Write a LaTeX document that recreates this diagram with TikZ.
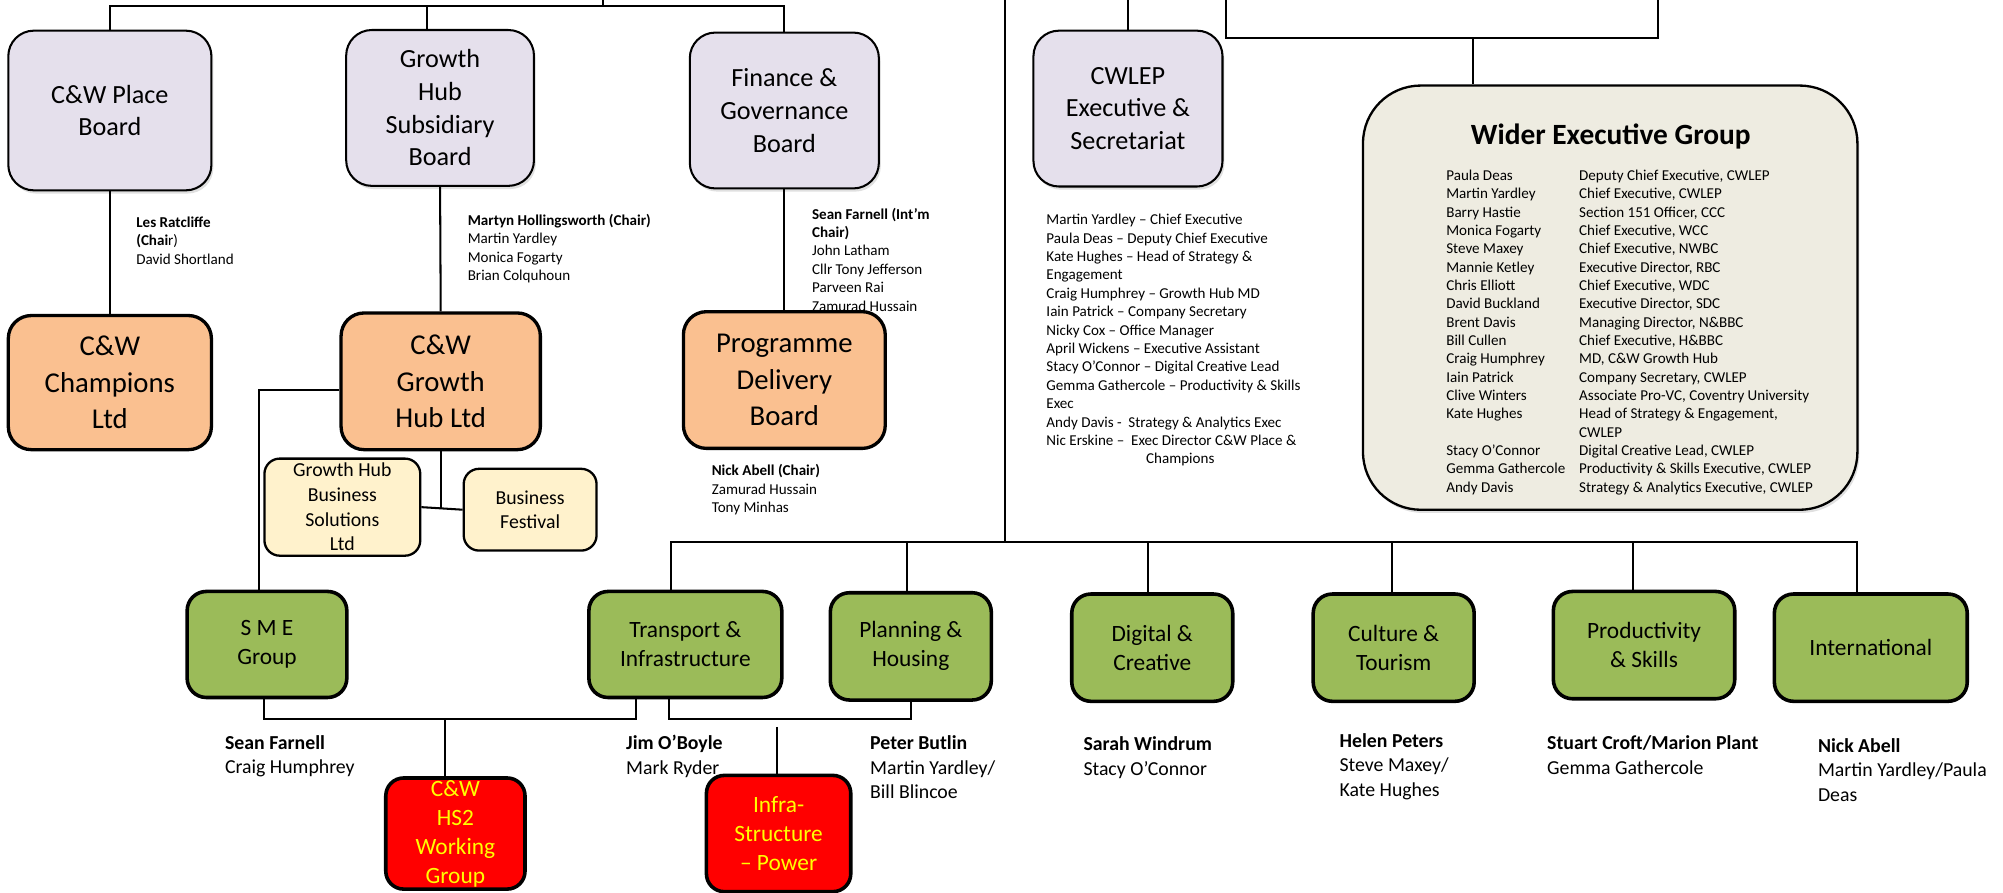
\documentclass[tikz,border=0pt]{standalone}
\usepackage{fontspec}
\setmainfont{Carlito}
\usetikzlibrary{shadows}
\definecolor{boardlilac}{HTML}{E5E0EC}
\definecolor{companypeach}{HTML}{FAC090}
\definecolor{subcream}{HTML}{FFF2CC}
\definecolor{groupgreen}{HTML}{9BBB59}
\definecolor{widerbeige}{HTML}{EEECE1}
\definecolor{taskyellow}{HTML}{FFFF00}

\begin{document}
\begin{tikzpicture}[x=1pt,y=1pt,yscale=-1,
  link/.style={line width=1.6pt},
  softshadow/.style={drop shadow={shadow xshift=1.5pt,shadow yshift=-2.5pt,opacity=0.2,fill=black!60}},
  boardbox/.style={draw,line width=1.6pt,rounded corners=20pt,fill=boardlilac,align=center,inner sep=0pt,font=\fontsize{20.5}{25.6}\selectfont,softshadow},
  companybox/.style={draw,line width=2.6pt,rounded corners=18pt,fill=companypeach,align=center,inner sep=0pt,font=\fontsize{22.5}{28.6}\selectfont},
  subbox/.style={draw,line width=1.8pt,rounded corners=12pt,fill=subcream,align=center,inner sep=0pt,font=\fontsize{15.5}{19.3}\selectfont},
  groupbox/.style={draw,line width=2.8pt,rounded corners=15pt,fill=groupgreen,align=center,inner sep=0pt,font=\fontsize{18.3}{22.7}\selectfont},
  taskbox/.style={draw,line width=2.8pt,rounded corners=14pt,fill=red,text=taskyellow,align=center,inner sep=0pt,font=\fontsize{18.3}{22.7}\selectfont},
  widerbox/.style={draw,line width=1.8pt,rounded corners=45pt,fill=widerbeige,softshadow},
  note/.style={anchor=north west,align=left,inner sep=0pt,font=\fontsize{11.8}{14.4}\selectfont},
  bignote/.style={anchor=north west,align=left,inner sep=0pt,font=\fontsize{15.5}{19.2}\selectfont}
]
\useasboundingbox (0,0) rectangle (1568,699);

%Shape: Boards
\node[boardbox,minimum width=159pt,minimum height=125pt] (placeb) at (86,86.5) {C\&W Place\\Board};
\node[boardbox,minimum width=147pt,minimum height=122pt] (hubsub) at (344.5,84.5) {Growth\\Hub\\Subsidiary\\Board};
\node[boardbox,minimum width=148pt,minimum height=122pt] (finance) at (614,86.5) {Finance \&\\Governance\\Board};
\node[boardbox,minimum width=148pt,minimum height=122pt] (cwlep) at (883,85) {CWLEP\\Executive \&\\Secretariat};

% Text Node
\node[note] (placenote) at (106.5,169.5) {\textbf{Les Ratcliffe}\\\textbf{(Chai}r)\\David Shortland};
\node[note] (hubnote) at (366,167.5) {\textbf{Martyn Hollingsworth (Chair)}\\Martin Yardley\\Monica Fogarty\\Brian Colquhoun};
\node[note] (financenote) at (635.5,162.5) {\textbf{Sean Farnell (Int’m}\\\textbf{Chair)}\\John Latham\\Cllr Tony Jefferson\\Parveen Rai\\Zamurad Hussain};
\node[note] (cwlepnote) at (819,167.5) {Martin Yardley -- Chief Executive\\Paula Deas -- Deputy Chief Executive\\Kate Hughes -- Head of Strategy \&\\Engagement\\Craig Humphrey -- Growth Hub MD\\Iain Patrick -- Company Secretary\\Nicky Cox -- Office Manager\\April Wickens -- Executive Assistant\\Stacy O’Connor -- Digital Creative Lead\\Gemma Gathercole -- Productivity \& Skills\\Exec\\Andy Davis -\ \ Strategy \& Analytics Exec\\Nic Erskine --\ \ Exec Director C\&W Place \&\\\hspace*{78pt}Champions};

%Shape: Companies
\node[companybox,minimum width=159pt,minimum height=105pt] (champions) at (86,299.5) {C\&W\\Champions\\Ltd};
\node[companybox,minimum width=156pt,minimum height=107pt] (hubltd) at (345,298.5) {C\&W\\Growth\\Hub Ltd};
\node[companybox,minimum width=158pt,minimum height=107pt] (pdb) at (614,297.5) {Programme\\Delivery\\Board};
\node[note] (pdbnote) at (557,363.5) {\textbf{Nick Abell (Chair)}\\Zamurad Hussain\\Tony Minhas};

\node[subbox,minimum width=122pt,minimum height=76pt] (ghbs) at (268,397) {Growth Hub\\Business\\Solutions\\Ltd};
\node[subbox,minimum width=104pt,minimum height=64pt] (festival) at (415,399) {Business\\Festival};

%Shape: Wider Executive Group
\node[widerbox,minimum width=387pt,minimum height=332pt] (wider) at (1260.5,233) {};
\node[anchor=base,inner sep=0pt,font=\fontsize{23}{27}\selectfont\bfseries] (widertitle) at (1261,113.5) {Wider Executive Group};
\node[anchor=north west,inner sep=0pt,font=\fontsize{11.8}{14.35}\selectfont] (widerlist) at (1132,131) {%
\begin{tabular}{@{}p{104pt}@{}l@{}}
Paula Deas & Deputy Chief Executive, CWLEP\\
Martin Yardley & Chief Executive, CWLEP\\
Barry Hastie & Section 151 Officer, CCC\\
Monica Fogarty & Chief Executive, WCC\\
Steve Maxey & Chief Executive, NWBC\\
Mannie Ketley & Executive Director, RBC\\
Chris Elliott & Chief Executive, WDC\\
David Buckland & Executive Director, SDC\\
Brent Davis & Managing Director, N\&BBC\\
Bill Cullen & Chief Executive, H\&BBC\\
Craig Humphrey & MD, C\&W Growth Hub\\
Iain Patrick & Company Secretary, CWLEP\\
Clive Winters & Associate Pro-VC, Coventry University\\
Kate Hughes & Head of Strategy \& Engagement,\\
 & CWLEP\\
Stacy O’Connor & Digital Creative Lead, CWLEP\\
Gemma Gathercole & Productivity \& Skills Executive, CWLEP\\
Andy Davis & Strategy \& Analytics Executive, CWLEP
\end{tabular}};

%Shape: Groups
\node[groupbox,minimum width=125pt,minimum height=83pt] (sme) at (209,504.5) {S M E\\Group};
\node[groupbox,minimum width=151pt,minimum height=83pt] (transport) at (536.5,504.5) {Transport \&\\Infrastructure};
\node[groupbox,minimum width=126pt,minimum height=84pt] (planning) at (713,506) {Planning \&\\Housing};
\node[groupbox,minimum width=126pt,minimum height=84pt] (digital) at (902,507) {Digital \&\\Creative};
\node[groupbox,minimum width=126pt,minimum height=84pt] (culture) at (1091,507) {Culture \&\\Tourism};
\node[groupbox,minimum width=142pt,minimum height=84pt] (skills) at (1287,505) {Productivity\\\& Skills};
\node[groupbox,minimum width=151pt,minimum height=84pt] (international) at (1464.5,507) {International};

%Shape: Working groups
\node[taskbox,minimum width=109pt,minimum height=87pt] (hs2) at (356.5,652.5) {C\&W\\HS2\\Working\\Group};
\node[taskbox,minimum width=113pt,minimum height=91pt] (infra) at (609.5,652.5) {Infra-\\Structure\\-- Power};

% Text Node
\node[bignote] (smenote) at (176,575.3) {\textbf{Sean Farnell}\\Craig Humphrey};
\node[bignote] (transportnote) at (490,575.3) {\textbf{Jim O’Boyle}\\Mark Ryder};
\node[bignote] (planningnote) at (681,575.7) {\textbf{Peter Butlin}\\Martin Yardley/\\Bill Blincoe};
\node[bignote] (digitalnote) at (848,576.7) {\textbf{Sarah Windrum}\\Stacy O’Connor};
\node[bignote] (culturenote) at (1048.5,573.7) {\textbf{Helen Peters}\\Steve Maxey/\\Kate Hughes};
\node[bignote] (skillsnote) at (1211,575.7) {\textbf{Stuart Croft/Marion Plant}\\Gemma Gathercole};
\node[bignote] (intlnote) at (1423,577.7) {\textbf{Nick Abell}\\Martin Yardley/Paula\\Deas};

%Straight Lines
\coordinate (bus) at (472,5);
\coordinate (busup) at (472,0);
\draw[link] (placeb.north) |- (bus) -| (finance.north);
\draw[link] (bus) -- (busup);
\draw[link] ([xshift=-10pt]hubsub.north) -- ([xshift=-10pt]hubsub.north |- bus);
\draw[link] (placeb.south) -- (champions.north);
\draw[link] (hubsub.south) -- (hubltd.north);
\draw[link] (finance.south) -- (pdb.north);

\coordinate (subjoin) at (345,398);
\draw[link] (hubltd.south) -- (subjoin);
\draw[link] (ghbs.east) -- (festival.west);
\draw[link] (hubltd.west |- 0,305) -| ([xshift=-6pt]sme.north);

\coordinate (cwtop) at (883,0);
\draw[link] (cwlep.north) -- (cwtop);
\coordinate (brl) at (960,0);
\coordinate (brcorner) at (1298,30);
\coordinate (brr) at (1298,0);
\coordinate (brjoin) at (1153,30);
\draw[link] (brl) |- (brcorner) -- (brr);
\draw[link] (brjoin) -- (brjoin |- wider.north);

\coordinate (trunktop) at (787,0);
\coordinate (trunk) at (787,424);
\draw[link] (trunktop) -- (trunk);
\draw[link] ([xshift=-11.5pt]transport.north) |- ([xshift=-10.5pt]international.north |- trunk) -- ([xshift=-10.5pt]international.north);
\foreach \n/\s in {planning/-3,digital/-3,culture/-1,skills/-9}
  \draw[link] ([xshift=\s pt]\n.north) -- ([xshift=\s pt]\n.north |- trunk);

\coordinate (hsbar) at (348,563);
\draw[link] ([xshift=-2pt]sme.south) |- (hsbar) -| ([xshift=-38.5pt]transport.south);
\draw[link] (hsbar) -- (hsbar |- hs2.north);
\coordinate (infbar) at (608,563);
\coordinate (infgap) at (608,569);
\draw[link] ([xshift=-12.5pt]transport.south) |- (infbar) -| (planning.south);
\draw[link] (infgap) -- (infgap |- infra.north);

\end{tikzpicture}
\end{document}
